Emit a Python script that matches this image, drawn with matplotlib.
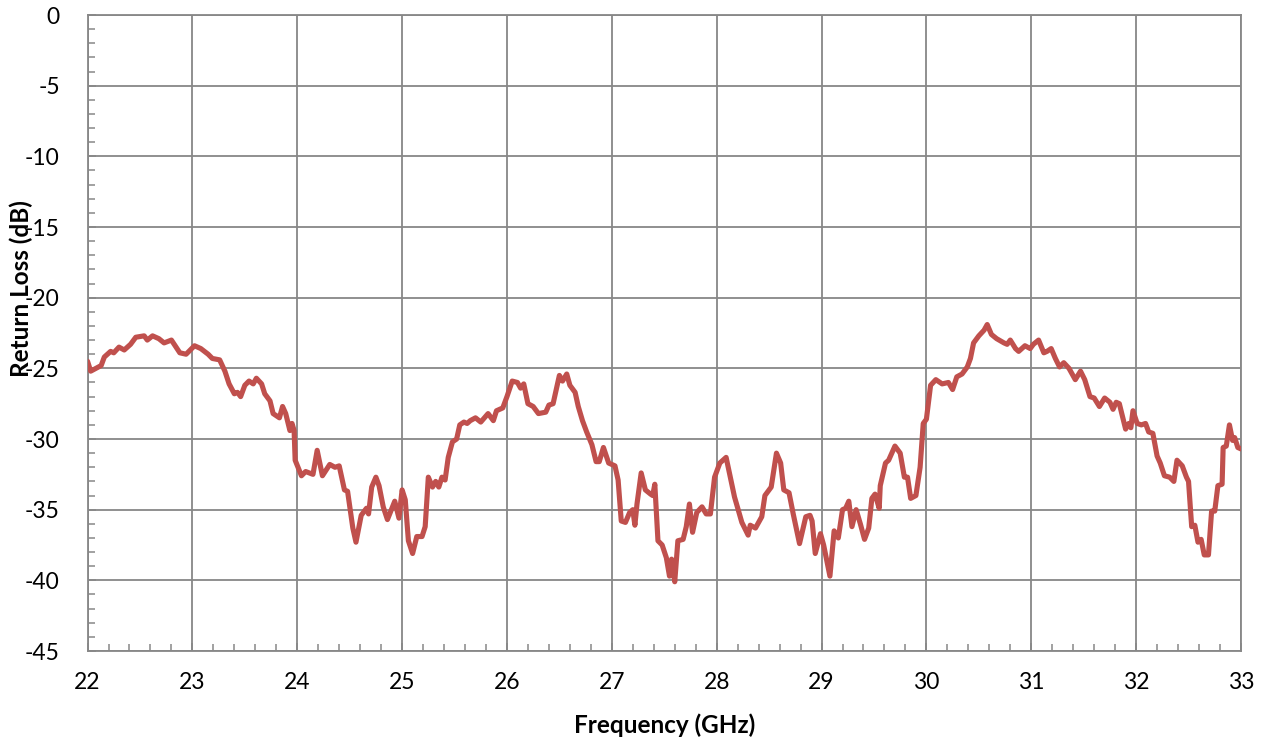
import matplotlib
matplotlib.use('Agg')
import matplotlib.pyplot as plt
from matplotlib.ticker import MultipleLocator

# values
freq_ghz = [
    22.00, 22.03, 22.13, 22.16, 22.22, 22.25, 22.30, 22.35, 22.41, 22.46,
    22.54, 22.57, 22.62, 22.68, 22.73, 22.80, 22.88, 22.94, 23.02, 23.08,
    23.15, 23.19, 23.26, 23.31, 23.35, 23.40, 23.43, 23.46, 23.50, 23.54,
    23.58, 23.61, 23.66, 23.69, 23.74, 23.77, 23.83, 23.86, 23.89, 23.93,
    23.95, 23.97, 23.98, 24.04, 24.08, 24.15, 24.19, 24.24, 24.31, 24.36,
    24.40, 24.45, 24.48, 24.53, 24.56, 24.61, 24.66, 24.68, 24.71, 24.75,
    24.78, 24.82, 24.86, 24.93, 24.97, 25.00, 25.03, 25.06, 25.10, 25.14,
    25.19, 25.22, 25.25, 25.29, 25.32, 25.35, 25.38, 25.41, 25.44, 25.48,
    25.52, 25.55, 25.59, 25.62, 25.65, 25.70, 25.75, 25.82, 25.87, 25.90,
    25.96, 26.00, 26.05, 26.10, 26.13, 26.16, 26.20, 26.25, 26.30, 26.37,
    26.40, 26.44, 26.50, 26.53, 26.57, 26.60, 26.65, 26.68, 26.72, 26.76,
    26.81, 26.85, 26.88, 26.92, 26.97, 27.03, 27.06, 27.09, 27.13, 27.17,
    27.20, 27.22, 27.24, 27.28, 27.32, 27.37, 27.39, 27.41, 27.44, 27.48,
    27.52, 27.55, 27.57, 27.60, 27.63, 27.68, 27.71, 27.74, 27.77, 27.81,
    27.86, 27.90, 27.94, 27.98, 28.03, 28.09, 28.13, 28.17, 28.24, 28.30,
    28.32, 28.37, 28.43, 28.46, 28.52, 28.57, 28.61, 28.64, 28.69, 28.73,
    28.79, 28.85, 28.89, 28.91, 28.94, 28.99, 29.02, 29.08, 29.12, 29.16,
    29.20, 29.23, 29.26, 29.29, 29.33, 29.37, 29.41, 29.45, 29.48, 29.51,
    29.55, 29.56, 29.61, 29.64, 29.70, 29.75, 29.79, 29.82, 29.85, 29.90,
    29.94, 29.97, 30.00, 30.04, 30.09, 30.15, 30.21, 30.25, 30.29, 30.34,
    30.39, 30.42, 30.45, 30.50, 30.55, 30.58, 30.62, 30.67, 30.74, 30.77,
    30.80, 30.85, 30.88, 30.94, 30.99, 31.02, 31.07, 31.12, 31.15, 31.19,
    31.23, 31.27, 31.31, 31.36, 31.42, 31.47, 31.51, 31.56, 31.60, 31.65,
    31.70, 31.75, 31.78, 31.81, 31.84, 31.90, 31.93, 31.95, 31.97, 32.01,
    32.05, 32.09, 32.12, 32.16, 32.20, 32.23, 32.27, 32.32, 32.36, 32.39,
    32.44, 32.48, 32.50, 32.53, 32.56, 32.59, 32.62, 32.65, 32.69, 32.72,
    32.75, 32.78, 32.82, 32.83, 32.86, 32.89, 32.92, 32.94, 32.97, 33.00,
]
return_loss_db = [
    -24.5, -25.2, -24.8, -24.2, -23.8, -23.9, -23.5, -23.7, -23.3, -22.8,
    -22.7, -23.0, -22.7, -22.9, -23.2, -23.0, -23.9, -24.0, -23.4, -23.6,
    -24.0, -24.3, -24.4, -25.2, -26.1, -26.8, -26.7, -27.0, -26.2, -25.9,
    -26.1, -25.7, -26.1, -26.8, -27.3, -28.2, -28.5, -27.7, -28.2, -29.4,
    -28.9, -29.4, -31.5, -32.6, -32.3, -32.5, -30.8, -32.6, -31.8, -32.0,
    -31.9, -33.6, -33.7, -36.3, -37.3, -35.4, -34.9, -35.3, -33.4, -32.7,
    -33.3, -34.8, -35.7, -34.4, -35.6, -33.6, -34.3, -37.2, -38.1, -36.9,
    -36.9, -36.2, -32.7, -33.4, -33.0, -33.4, -32.7, -32.9, -31.3, -30.2,
    -30.0, -29.0, -28.8, -28.9, -28.7, -28.5, -28.8, -28.2, -28.7, -28.0,
    -27.8, -27.0, -25.9, -26.0, -26.4, -26.1, -27.5, -27.7, -28.2, -28.1,
    -27.6, -27.5, -25.5, -25.9, -25.4, -26.2, -26.7, -27.7, -28.7, -29.5,
    -30.4, -31.6, -31.6, -30.6, -31.7, -31.9, -32.9, -35.8, -35.9, -35.2,
    -35.0, -36.1, -34.6, -32.4, -33.6, -33.9, -34.0, -33.2, -37.2, -37.5,
    -38.4, -39.7, -38.5, -40.1, -37.2, -37.1, -36.2, -34.6, -36.6, -35.2,
    -34.8, -35.3, -35.3, -32.7, -31.7, -31.3, -32.7, -34.1, -35.9, -36.8,
    -36.1, -36.3, -35.5, -34.0, -33.4, -31.0, -31.7, -33.6, -33.8, -35.3,
    -37.4, -35.5, -35.4, -35.8, -38.1, -36.7, -37.5, -39.7, -36.5, -37.0,
    -35.0, -34.9, -34.4, -36.2, -35.0, -36.0, -37.1, -36.3, -34.2, -33.9,
    -34.9, -33.3, -31.7, -31.5, -30.5, -31.0, -32.7, -32.7, -34.2, -34.0,
    -32.0, -28.9, -28.6, -26.2, -25.8, -26.1, -26.0, -26.5, -25.6, -25.4,
    -24.9, -24.3, -23.2, -22.7, -22.3, -21.9, -22.6, -22.9, -23.2, -23.3,
    -23.0, -23.6, -23.8, -23.4, -23.6, -23.3, -23.0, -23.9, -23.8, -23.6,
    -24.3, -24.9, -24.6, -25.0, -25.8, -25.2, -25.8, -27.0, -27.1, -27.7,
    -27.1, -27.4, -27.9, -27.4, -27.5, -29.3, -28.9, -29.2, -28.0, -28.9,
    -29.0, -28.9, -29.5, -29.6, -31.2, -31.7, -32.6, -32.7, -33.0, -31.5,
    -31.9, -32.7, -33.0, -36.2, -36.1, -37.3, -37.1, -38.2, -38.2, -35.1,
    -35.1, -33.3, -33.2, -30.6, -30.5, -29.0, -30.1, -29.9, -30.6, -30.7,
]

grid_col = '#878787'
plt.rcParams['font.family'] = ['Lato', 'DejaVu Sans']
plt.rcParams['axes.unicode_minus'] = False

fig = plt.figure(figsize=(12.65, 7.43), dpi=100)
ax = fig.add_axes([0.0692, 0.1238, 0.9118, 0.856])

ax.plot(freq_ghz, return_loss_db, color='#C0504D', linewidth=3.7,
        solid_joinstyle='round', solid_capstyle='round', zorder=3)

ax.set_xlim(22, 33)
ax.set_ylim(-45, 0)
ax.xaxis.set_major_locator(MultipleLocator(1))
ax.xaxis.set_minor_locator(MultipleLocator(0.2))
ax.yaxis.set_major_locator(MultipleLocator(5))
ax.yaxis.set_minor_locator(MultipleLocator(1))

ax.grid(True, which='major', color=grid_col, linewidth=1.3)
for s in ax.spines.values():
    s.set_color(grid_col)
    s.set_linewidth(1.3)

ax.tick_params(which='both', direction='in', color=grid_col, width=1.1)
ax.tick_params(which='major', length=6, labelsize=16.5)
ax.tick_params(which='minor', length=5)
ax.tick_params(axis='x', which='major', pad=15)
ax.tick_params(axis='y', which='major', pad=20)

ax.set_xlabel('Frequency (GHz)', fontsize=17.5, fontweight='bold')
ax.set_ylabel('Return Loss (dB)', fontsize=17.5, fontweight='bold')
ax.xaxis.set_label_coords(0.5, -0.098)
ax.yaxis.set_label_coords(-0.047, 0.57)

fig.savefig('out.png', dpi=100)
